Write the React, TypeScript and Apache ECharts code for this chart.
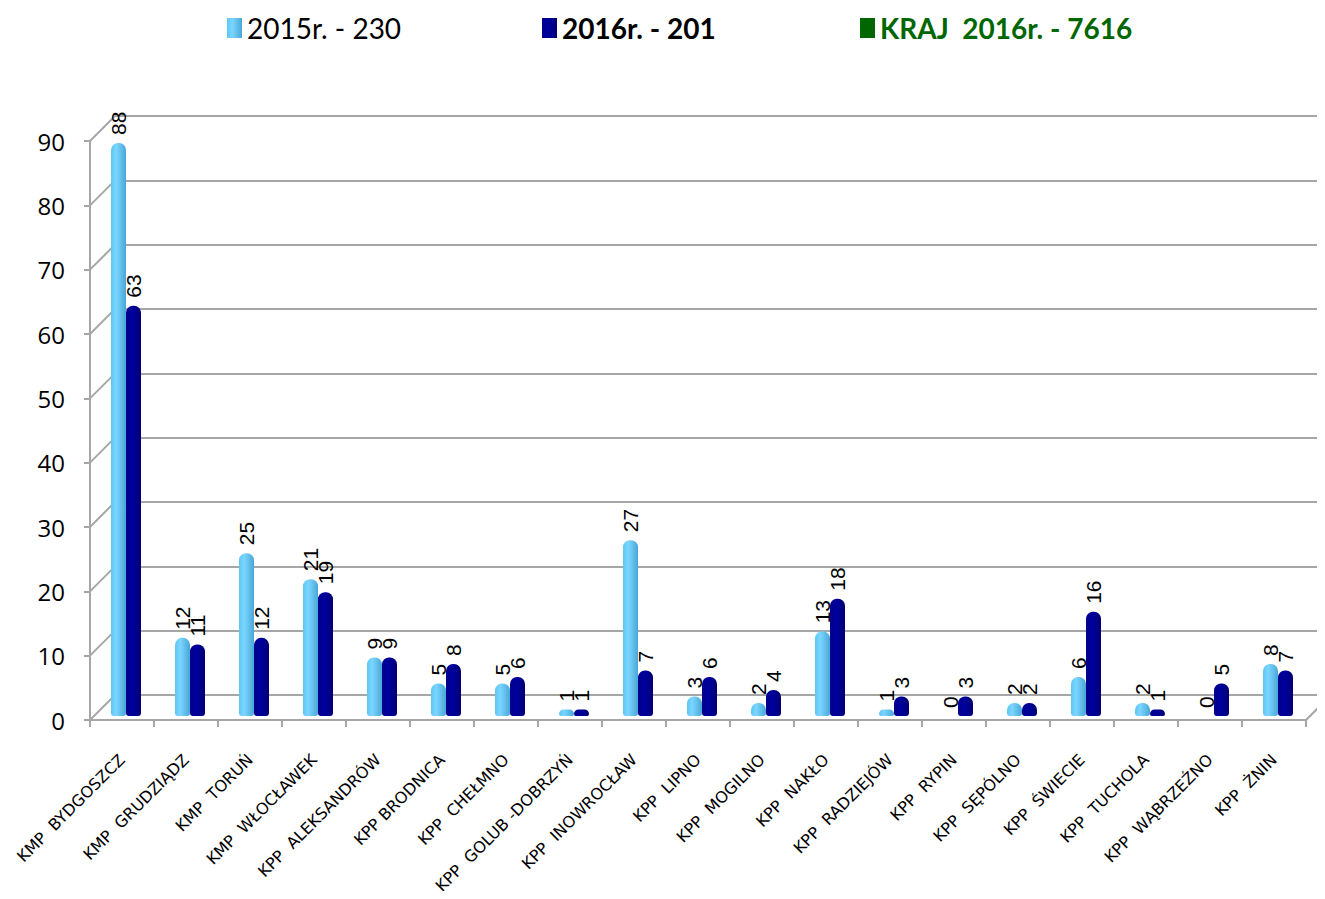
import React, { useEffect, useRef } from "react";
import * as echarts from "echarts";

const categories = [
  "KMP  BYDGOSZCZ", "KMP  GRUDZIĄDZ", "KMP  TORUŃ", "KMP  WŁOCŁAWEK", "KPP  ALEKSANDRÓW",
  "KPP BRODNICA", "KPP  CHEŁMNO", "KPP  GOLUB -DOBRZYŃ", "KPP  INOWROCŁAW", "KPP  LIPNO",
  "KPP  MOGILNO", "KPP  NAKŁO", "KPP  RADZIEJÓW", "KPP  RYPIN", "KPP  SĘPÓLNO",
  "KPP  ŚWIECIE", "KPP  TUCHOLA", "KPP  WĄBRZEŹNO", "KPP  ŻNIN",
];
const values2015 = [88, 12, 25, 21, 9, 5, 5, 1, 27, 3, 2, 13, 1, 0, 2, 6, 2, 0, 8];
const values2016 = [63, 11, 12, 19, 9, 8, 6, 1, 7, 6, 4, 18, 3, 3, 2, 16, 1, 5, 7];
const legendNames = ["2015r. - 230", "2016r. - 201", "KRAJ  2016r. - 7616"];
const yTicks = [0, 10, 20, 30, 40, 50, 60, 70, 80, 90];

const DEPTH_X = 25;
const DEPTH_Y = 25;

export default function App() {
  const ref = useRef<HTMLDivElement>(null);
  useEffect(() => {
    if (!ref.current) return;
    const chart = echarts.init(ref.current, undefined, { renderer: "svg" });
    const gridLeft = 90;
    const gridRight = 19;
    const gridTop = 141;
    const gridBottom = 179;
    const labelStyle = {
      show: true,
      position: "top" as const,
      rotate: 90,
      align: "left" as const,
      verticalAlign: "middle" as const,
      distance: 8,
      fontSize: 21,
      fontFamily: "Liberation Sans",
      color: "#000",
    };
    const option: any = {
      animation: false,
      backgroundColor: "#fff",
      legend: [
        {
          data: [{ name: legendNames[0], icon: "rect" }],
          left: 222, top: 9, itemWidth: 15, itemHeight: 20, itemGap: 8,
          textStyle: { fontSize: 28, fontFamily: "Lato", color: "#000" },
          selectedMode: false,
        },
        {
          data: [{ name: legendNames[1], icon: "rect" }],
          left: 537, top: 9, itemWidth: 15, itemHeight: 20,
          textStyle: { fontSize: 28, fontFamily: "Lato", fontWeight: "bold", color: "#000" },
          selectedMode: false,
        },
        {
          data: [{ name: legendNames[2], icon: "rect" }],
          left: 855, top: 9, itemWidth: 15, itemHeight: 20,
          textStyle: { fontSize: 28, fontFamily: "Lato", fontWeight: "bold", color: "#006600" },
          selectedMode: false,
        },
      ],
      grid: [
        { left: gridLeft, right: gridRight, top: gridTop, bottom: gridBottom },
        { left: gridLeft + DEPTH_X, right: 0, top: gridTop - DEPTH_Y, bottom: gridBottom + DEPTH_Y },
        { left: gridLeft + 4, right: gridRight - 4, top: 130, bottom: 183 },
      ],
      xAxis: [
        {
          type: "category", gridIndex: 0, data: categories,
          axisLine: { show: true, lineStyle: { color: "#a6a6a6", width: 2 } },
          axisTick: { show: true, length: 7, lineStyle: { color: "#a6a6a6", width: 2 } },
          axisLabel: {
            interval: 0, rotate: 45, margin: 37, fontSize: 16,
            fontFamily: "DejaVu Sans", color: "#000",
          },
        },
        { type: "category", gridIndex: 1, data: categories, show: false },
        { type: "category", gridIndex: 2, data: categories, show: false },
      ],
      yAxis: [
        {
          type: "value", gridIndex: 0, min: 0, max: 90, interval: 10,
          axisLine: { show: true, lineStyle: { color: "#a6a6a6", width: 2 } },
          axisTick: { show: true, length: 6, lineStyle: { color: "#a6a6a6", width: 2 } },
          axisLabel: { fontSize: 24, fontFamily: "Open Sans", color: "#000", margin: 25 },
          splitLine: { show: false },
        },
        {
          type: "value", gridIndex: 1, min: 0, max: 90, interval: 10,
          axisLine: { show: false }, axisTick: { show: false }, axisLabel: { show: false },
          splitLine: { show: true, lineStyle: { color: "#a6a6a6", width: 2 } },
        },
        {
          type: "value", gridIndex: 2, min: 0, max: 90, interval: 10, show: false,
          splitLine: { show: false },
        },
      ],
      series: [
        {
          name: legendNames[0], type: "bar", xAxisIndex: 2, yAxisIndex: 2,
          data: values2015, barWidth: 15, barGap: "0%", z: 3,
          itemStyle: {
            color: new echarts.graphic.LinearGradient(0, 0, 1, 0, [
              { offset: 0, color: "#5fc6f5" },
              { offset: 0.35, color: "#7ad6ff" },
              { offset: 1, color: "#4aa6d6" },
            ]),
            borderRadius: [7, 7, 3, 3],
          },
          label: labelStyle,
        },
        {
          name: legendNames[1], type: "bar", xAxisIndex: 2, yAxisIndex: 2,
          data: values2016, barWidth: 15, barGap: "0%", z: 3,
          itemStyle: {
            color: new echarts.graphic.LinearGradient(0, 0, 1, 0, [
              { offset: 0, color: "#00008c" },
              { offset: 0.4, color: "#0000a0" },
              { offset: 1, color: "#000070" },
            ]),
            borderRadius: [7, 7, 3, 3],
          },
          label: labelStyle,
        },
        {
          name: legendNames[2], type: "line", xAxisIndex: 0, yAxisIndex: 0,
          data: [], itemStyle: { color: "#006600" }, lineStyle: { color: "#006600" },
        },
      ],
    };
    chart.setOption(option);

    const graphics: any[] = [];
    yTicks.forEach((v) => {
      const y = chart.convertToPixel({ yAxisIndex: 0 }, v) as number;
      graphics.push({
        type: "line",
        shape: { x1: gridLeft, y1: y, x2: gridLeft + DEPTH_X, y2: y - DEPTH_Y },
        style: { stroke: "#a6a6a6", lineWidth: 2 },
        z: 1,
      });
    });
    const y0 = chart.convertToPixel({ yAxisIndex: 0 }, 0) as number;
    const xEnd = 1325 - gridRight;
    graphics.push({
      type: "line",
      shape: { x1: xEnd, y1: y0, x2: xEnd + DEPTH_X, y2: y0 - DEPTH_Y },
      style: { stroke: "#a6a6a6", lineWidth: 2 },
      z: 1,
    });
    chart.setOption({ graphic: graphics });

    return () => chart.dispose();
  }, []);
  return <div ref={ref} style={{ width: 1325, height: 899, margin: -8 }} />;
}
